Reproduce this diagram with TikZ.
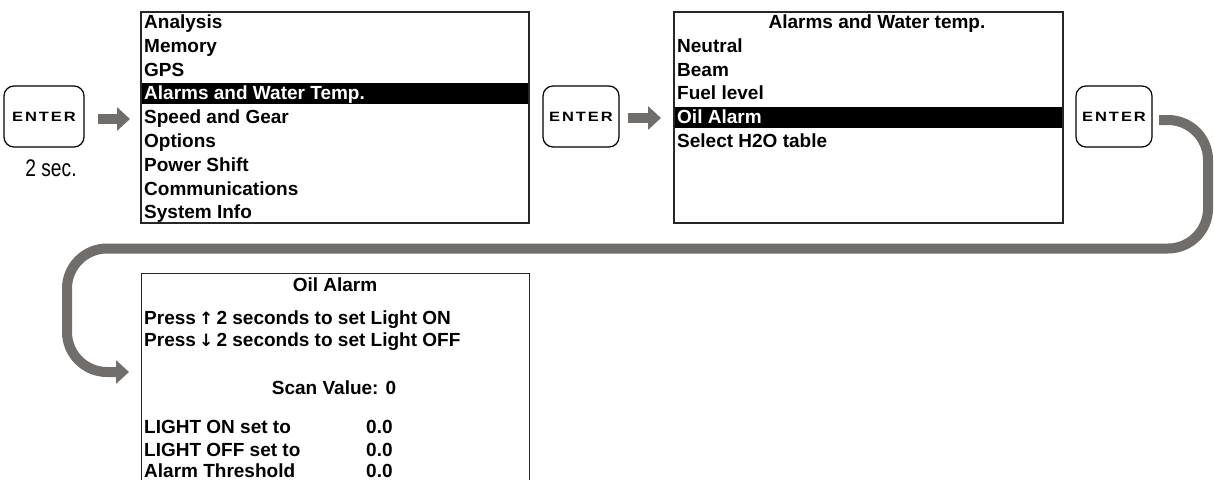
\documentclass[tikz,border=0pt]{standalone}
\usepackage{fontspec}
\setmainfont{Liberation Sans}
\newfontfamily\symfont{DejaVu Sans}
\newfontfamily\keyfont[LetterSpace=12]{Liberation Sans}
\usetikzlibrary{arrows.meta}
\definecolor{arrowgray}{RGB}{112,109,106}
\newcommand{\enterlabel}{\scalebox{1.22}[1]{ENTER}}
\begin{document}
\begin{tikzpicture}[x=1pt,y=-1pt,
  keybox/.style={draw=black, line width=1.2pt, rounded corners=10pt, minimum width=76pt, minimum height=61pt, inner sep=0pt, font=\keyfont\bfseries\fontsize{13.5}{13.5}\selectfont},
  screen/.style={draw=black!85, line width=1.3pt, inner sep=0pt},
  item/.style={anchor=base west, inner sep=0pt, font=\bfseries\fontsize{19}{19}\selectfont},
  title/.style={item, anchor=base},
  sel/.style={item, text=white},
  selbar/.style={fill=black},
  blockarrow/.style={draw=arrowgray, line width=10pt, -{Triangle[length=13pt,width=23pt]}},
]
\clip (0,0) rectangle (1214,479);

% keys
\node[keybox, minimum width=80pt] (btn1) at (44,116.5) {\enterlabel};
\node[inner sep=0pt, font=\fontsize{24}{24}\selectfont] (sec) at (51,168) {\scalebox{0.8}[1]{2 sec.}};
\node[keybox] (btn2) at (581,116.5) {\enterlabel};
\node[keybox] (btn3) at (1114,116.5) {\enterlabel};

% screen 1
\fill[selbar] (141,83) rectangle (529,104);
\node[screen, minimum width=388pt, minimum height=211pt] (box1) at (335,117.5) {};
\node[item] (m0) at (144,28.5) {Analysis};
\node[item] (m1) at (144,52.3) {Memory};
\node[item] (m2) at (144,76.1) {GPS};
\node[sel]  (m3) at (144,99.9) {Alarms and Water Temp.};
\node[item] (m4) at (144,123.7) {Speed and Gear};
\node[item] (m5) at (144,147.5) {Options};
\node[item] (m6) at (144,171.3) {Power Shift};
\node[item] (m7) at (144,195.1) {Communications};
\node[item] (m8) at (144,218.9) {System Info};

% screen 2
\fill[selbar] (674,107) rectangle (1063,128);
\node[screen, minimum width=389pt, minimum height=211pt] (box2) at (868.5,117.5) {};
\node[title] (t2) at (877,28.5) {Alarms and Water temp.};
\node[item] (n1) at (677,52.3) {Neutral};
\node[item] (n2) at (677,76.1) {Beam};
\node[item] (n3) at (677,99.9) {Fuel level};
\node[sel]  (n4) at (677,123.7) {Oil Alarm};
\node[item] (n5) at (677,147.5) {Select H2O table};

% screen 3
\node[screen, minimum width=388pt, minimum height=230pt, anchor=north west] (box3) at (141,273) {};
\node[title] (t3) at (335,291.5) {Oil Alarm};
\node[item] (p1) at (144,324.5) {Press\,{\symfont\fontsize{17}{17}\selectfont ↑}\,2 seconds to set Light ON};
\node[item] (p2) at (144,346.5) {Press\,{\symfont\fontsize{17}{17}\selectfont ↓}\,2 seconds to set Light OFF};
\node[title] (sv) at (334,394.5) {Scan Value: 0};
\node[item] (l1) at (144,433) {LIGHT ON set to};
\node[item] (v1) at (366,433) {0.0};
\node[item] (l2) at (144,456.5) {LIGHT OFF set to};
\node[item] (v2) at (366,456.5) {0.0};
\node[item] (l3) at (144,477) {Alarm Threshold};
\node[item] (v3) at (366,477) {0.0};

% arrows
\coordinate (a1s) at (98,119);
\coordinate (a1e) at (130,119);
\coordinate (a2s) at (628,118);
\coordinate (a2e) at (661,118);
\draw[blockarrow] (a1s) -- (a1e);
\draw[blockarrow] (a2s) -- (a2e);
\coordinate (bigstart) at (1159,120);
\coordinate (bigend) at (129,372);
\draw[blockarrow, rounded corners=40pt] (bigstart) -- (1208,120) -- (1208,248.5) -- (67,248.5) -- (67,372) -- (bigend);
\end{tikzpicture}
\end{document}
